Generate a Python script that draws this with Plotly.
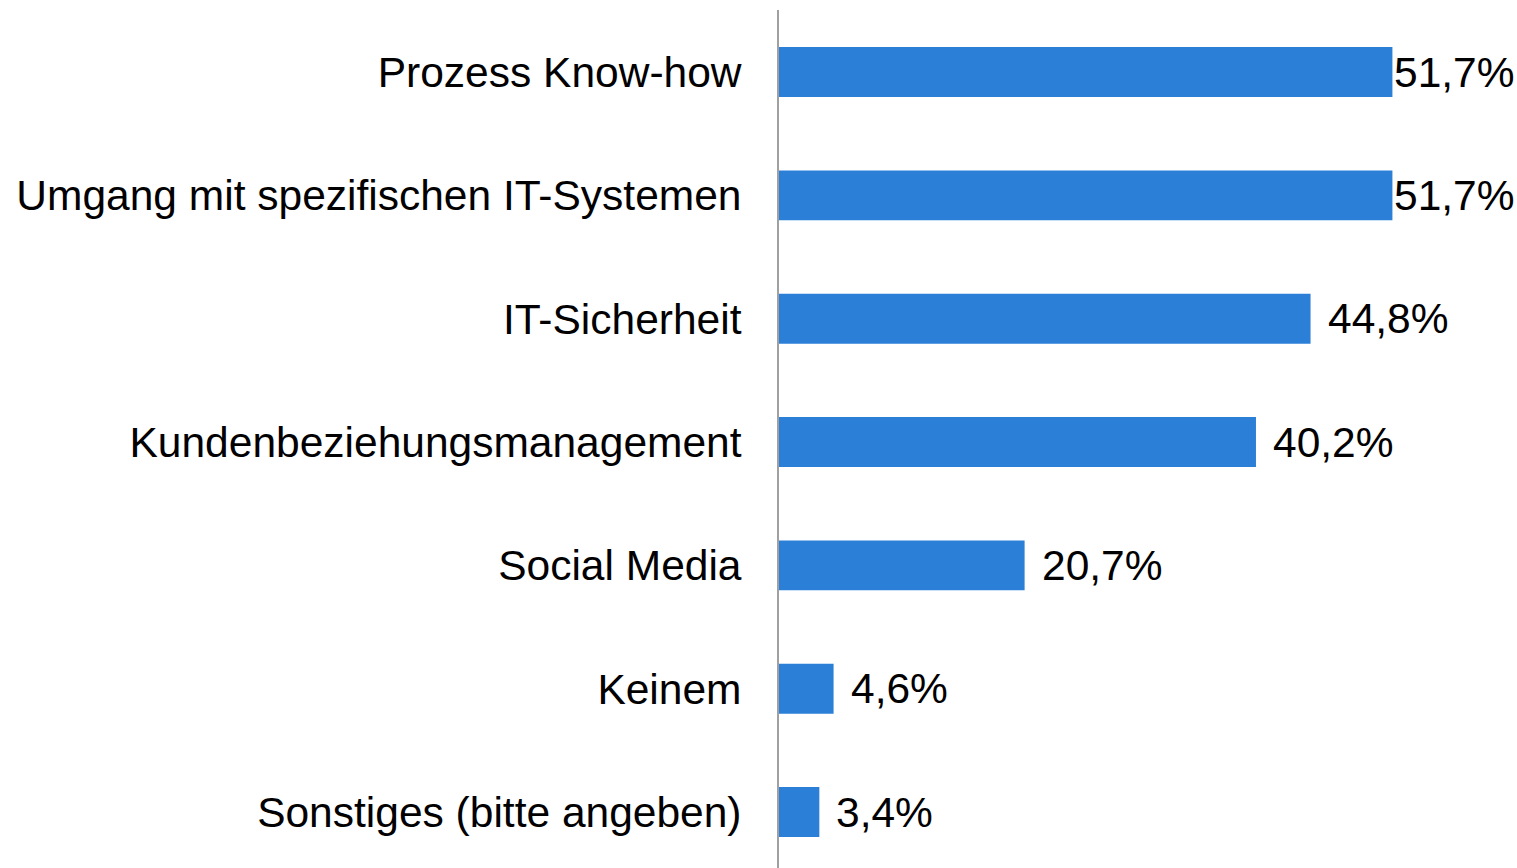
import plotly.graph_objects as go

categories = [
    "Prozess Know-how",
    "Umgang mit spezifischen IT-Systemen",
    "IT-Sicherheit",
    "Kundenbeziehungsmanagement",
    "Social Media",
    "Keinem",
    "Sonstiges (bitte angeben)",
]
values = [51.7, 51.7, 44.8, 40.2, 20.7, 4.6, 3.4]
labels = ["51,7%", "51,7%", "44,8%", "40,2%", "20,7%", "4,6%", "3,4%"]

FONT = "Liberation Sans, Arial, sans-serif"
BAR = "#2B7FD7"
FS = 42.5

fig = go.Figure(
    go.Bar(
        x=values,
        y=categories,
        orientation="h",
        marker=dict(color=BAR, line=dict(width=0)),
        cliponaxis=False,
        hoverinfo="skip",
    )
)

for c, v, t in zip(categories, values, labels):
    fig.add_annotation(
        x=v, y=c, text=t, showarrow=False, xanchor="left", yanchor="middle",
        xshift=0 if v > 50 else 15,
        font=dict(family=FONT, size=FS, color="#000000"),
    )

fig.update_layout(
    width=1517, height=868,
    margin=dict(l=779, r=0, t=10, b=0, pad=0),
    paper_bgcolor="white", plot_bgcolor="white",
    bargap=0.595,
    showlegend=False,
    font=dict(family=FONT, size=FS, color="#000000"),
    xaxis=dict(range=[0, 62.2], visible=False, showgrid=False, zeroline=False),
    yaxis=dict(
        type="category",
        range=[6.454, -0.503],
        showline=True, linecolor="#A0A0A0", linewidth=2,
        showgrid=False, zeroline=False, ticks="",
        ticklabelstandoff=27,
        tickfont=dict(family=FONT, size=FS, color="#000000"),
    ),
)

fig.write_html(
    "out.html",
    config={"displayModeBar": False, "staticPlot": True},
    post_script="document.body.style.margin='0';document.body.style.overflow='hidden';",
)
